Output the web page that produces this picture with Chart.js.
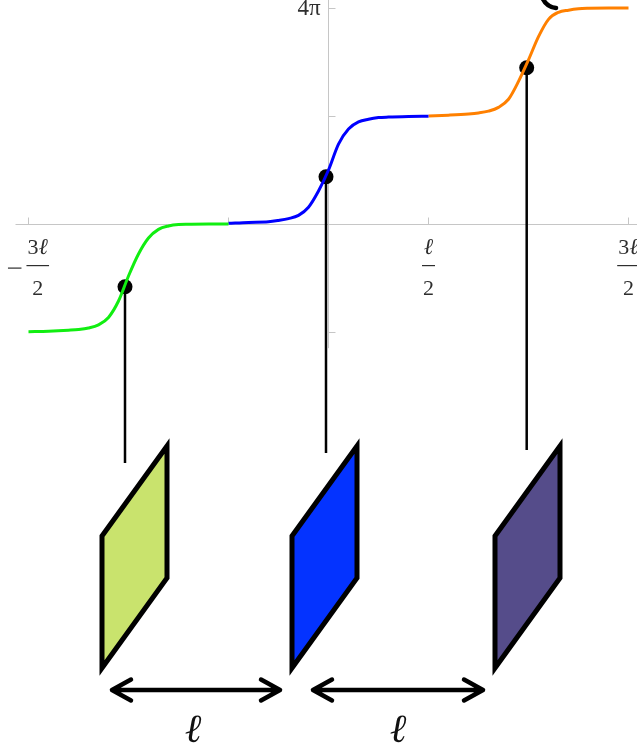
<!DOCTYPE html>
<html>
<head>
<meta charset="utf-8">
<script src="https://cdn.jsdelivr.net/npm/chart.js@4.4.1/dist/chart.umd.min.js"></script>
<style>
  html, body { margin: 0; padding: 0; background: #fff; }
  #wrap { width: 637px; height: 745px; position: relative; }
</style>
</head>
<body>
<div id="wrap"><canvas id="kinks"></canvas></div>
<script>
// x in units of ℓ, phase in units of π
const xOffsets = [-0.5, -0.4, -0.3, -0.25, -0.2, -0.15, -0.1, -0.05, 0, 0.05, 0.1, 0.15, 0.2, 0.25, 0.3, 0.4, 0.5];
const kinkCentres = [-1, 0, 1];
const phaseGreen = [-1.994, -1.985, -1.967, -1.954, -1.926, -1.867, -1.73, -1.426, -0.963, -0.556, -0.26, -0.1, -0.037, -0.01, -0.005, 0, 0];
const phaseBlue = [0.013, 0.03, 0.04, 0.065, 0.1, 0.16, 0.31, 0.61, 1.0, 1.48, 1.76, 1.89, 1.94, 1.97, 1.98, 1.99, 1.995];
const phaseOrange = [2.0, 2.015, 2.037, 2.056, 2.09, 2.16, 2.31, 2.64, 3.04, 3.47, 3.79, 3.92, 3.96, 3.985, 3.994, 4.0, 4.0];

// pendulums hanging from the chain
const pendulumX = [-1.0175, -0.0125, 0.991];
const pendulumPhase = [-1.161, 0.876, 2.894];
const stringEnds = [-4.426, -4.241, -4.185];

const xTicks = [-1.5, -0.5, 0.5, 1.5];
const xTickLabels = ['−3ℓ/2', '', 'ℓ/2', '3ℓ/2'];
const yTicks = [-2, 2, 4];
const yTickLabels = ['', '', '4π'];

const kinkColours = ['#11ee11', '#0000ff', '#ff8000'];
const plateColours = ['#c9e36d', '#0433ff', '#554c8a'];
const plateX = [-1.1325, -0.1825, 0.8325];

function curve(k, phase) {
  return {
    data: xOffsets.map((d, i) => ({ x: kinkCentres[k] + d, y: phase[i] })),
    borderColor: kinkColours[k],
    borderWidth: 3,
    pointRadius: 0,
    fill: false,
    cubicInterpolationMode: 'monotone',
    order: 0
  };
}

const datasets = [
  curve(0, phaseGreen),
  curve(1, phaseBlue),
  curve(2, phaseOrange)
];
pendulumX.forEach((px, i) => {
  datasets.push({
    data: [{ x: px, y: pendulumPhase[i] }, { x: px, y: stringEnds[i] }],
    borderColor: '#000',
    borderWidth: 2.5,
    pointRadius: 0,
    order: 2
  });
});
datasets.push({
  data: pendulumX.map((px, i) => ({ x: px, y: pendulumPhase[i] })),
  showLine: false,
  pointRadius: 7.5,
  pointBackgroundColor: '#000',
  pointBorderWidth: 0,
  order: 1
});

// the script ℓ comes from DejaVu, digits from Liberation
const digitFont = '22px "Liberation Serif", serif';
const ellFont = 'italic 23px "DejaVu Serif", serif';

function pieceFont(ch) { return ch === 'ℓ' ? ellFont : digitFont; }

function textWidth(ctx, s) {
  let w = 0;
  for (const ch of s) { ctx.font = pieceFont(ch); w += ctx.measureText(ch).width; }
  return w;
}

function drawMixed(ctx, s, cx, baseline) {
  let px = cx - textWidth(ctx, s) / 2;
  ctx.textAlign = 'left';
  for (const ch of s) {
    ctx.font = pieceFont(ch);
    ctx.fillText(ch, px, baseline);
    px += ctx.measureText(ch).width;
  }
}

function fraction(ctx, cx, label) {
  const neg = label.startsWith('−');
  const [num, den] = label.replace('−', '').split('/');
  const w = Math.max(textWidth(ctx, num), textWidth(ctx, den)) + 2;
  const mw = 13.5, gap = 5;
  const left = neg ? cx - (w + mw + gap) / 2 + mw + gap : cx - w / 2;
  ctx.textBaseline = 'alphabetic';
  drawMixed(ctx, num, left + w / 2, 254);
  drawMixed(ctx, den, left + w / 2, 294.5);
  ctx.fillRect(left, 265, w, 1.2);
  if (neg) ctx.fillRect(left - gap - mw, 267.5, mw, 1.2);
}

function arrow(ctx, xa, xb, yy) {
  ctx.beginPath();
  ctx.moveTo(xa, yy); ctx.lineTo(xb, yy);
  ctx.moveTo(xa + 19, yy - 10.5); ctx.lineTo(xa, yy); ctx.lineTo(xa + 19, yy + 10.5);
  ctx.moveTo(xb - 19, yy - 10.5); ctx.lineTo(xb, yy); ctx.lineTo(xb - 19, yy + 10.5);
  ctx.stroke();
}

const diagram = {
  id: 'diagram',
  beforeDatasetsDraw(chart) {
    const { ctx, chartArea, scales: { x, y } } = chart;
    const x0 = Math.round(x.getPixelForValue(0)) - 0.5;
    const y0 = Math.round(y.getPixelForValue(0)) + 0.5;
    ctx.save();
    ctx.strokeStyle = '#c6c6c6';
    ctx.lineWidth = 1;
    ctx.beginPath();
    ctx.moveTo(x.getPixelForValue(-1.565), y0);
    ctx.lineTo(chartArea.right, y0);
    ctx.moveTo(x0, chartArea.top);
    ctx.lineTo(x0, y.getPixelForValue(-2.3));
    xTicks.forEach(v => {
      const px = Math.round(x.getPixelForValue(v)) - 0.5;
      ctx.moveTo(px, y0); ctx.lineTo(px, y0 - 7);
    });
    yTicks.forEach(v => {
      const py = Math.round(y.getPixelForValue(v)) + 0.5;
      ctx.moveTo(x0, py); ctx.lineTo(x0 + 7, py);
    });
    ctx.stroke();

    ctx.fillStyle = '#2e2e2e';
    xTicks.forEach((v, i) => {
      if (xTickLabels[i]) fraction(ctx, x.getPixelForValue(v), xTickLabels[i]);
    });
    ctx.font = '23px "Liberation Serif", serif';
    ctx.textAlign = 'right';
    ctx.textBaseline = 'middle';
    yTicks.forEach((v, i) => {
      if (yTickLabels[i]) ctx.fillText(yTickLabels[i], x0 - 8, y.getPixelForValue(v) + 1);
    });

    // bottom of a cropped bracket at the top edge
    ctx.strokeStyle = '#000';
    ctx.lineWidth = 4.5;
    ctx.lineCap = 'round';
    ctx.beginPath();
    ctx.moveTo(542, -3);
    ctx.quadraticCurveTo(546, 7, 556, 8);
    ctx.stroke();
    ctx.restore();
  },
  afterDatasetsDraw(chart) {
    const { ctx, scales: { x } } = chart;
    ctx.save();
    ctx.strokeStyle = '#000';
    ctx.lineWidth = 5;
    ctx.lineJoin = 'miter';
    plateX.forEach((v, i) => {
      const l = x.getPixelForValue(v), r = l + 65;
      ctx.beginPath();
      ctx.moveTo(l, 536);
      ctx.lineTo(r, 446);
      ctx.lineTo(r, 578);
      ctx.lineTo(l, 668);
      ctx.closePath();
      ctx.fillStyle = plateColours[i];
      ctx.fill();
      ctx.stroke();
    });

    ctx.lineWidth = 4.5;
    ctx.lineCap = 'round';
    ctx.lineJoin = 'round';
    arrow(ctx, 112, 280, 690);
    arrow(ctx, 313, 483, 690);

    ctx.fillStyle = '#111';
    ctx.font = 'italic bold 40px "DejaVu Serif", serif';
    ctx.textAlign = 'center';
    ctx.textBaseline = 'alphabetic';
    ctx.fillText('ℓ', 194, 742);
    ctx.fillText('ℓ', 399, 742);
    ctx.restore();
  }
};

new Chart(document.getElementById('kinks'), {
  type: 'line',
  data: { datasets },
  options: {
    responsive: true,
    maintainAspectRatio: false,
    animation: false,
    events: [],
    layout: { padding: 0, autoPadding: false },
    plugins: { legend: { display: false }, tooltip: { enabled: false } },
    scales: {
      x: { type: 'linear', min: -1.6425, max: 1.5425, display: false },
      y: { type: 'linear', min: -9.648, max: 4.148, display: false }
    }
  },
  plugins: [diagram]
});
</script>
</body>
</html>
